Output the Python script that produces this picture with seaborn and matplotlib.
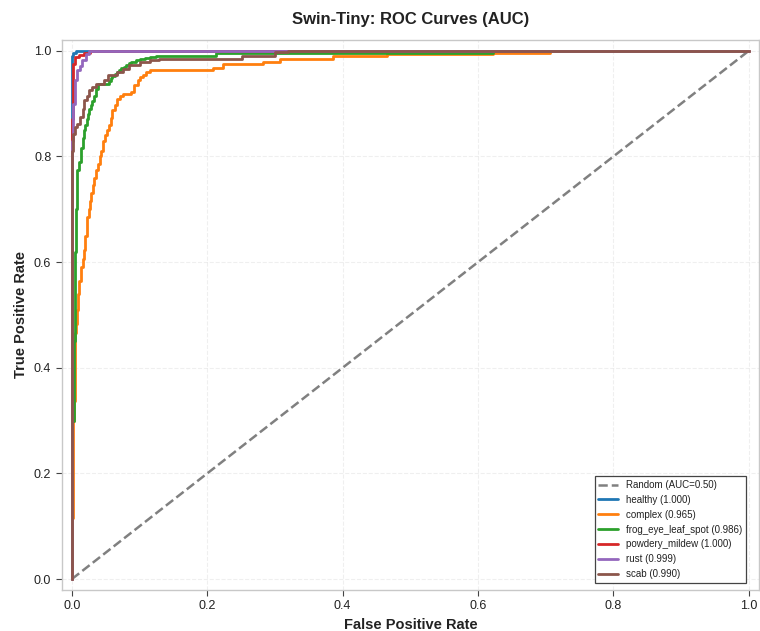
import numpy as np
import pandas as pd
import matplotlib
matplotlib.use("Agg")
import matplotlib.pyplot as plt
import seaborn as sns

# classes + AUC
classes = ["healthy", "complex", "frog_eye_leaf_spot", "powdery_mildew", "rust", "scab"]
auc_values = [1.000, 0.965, 0.986, 1.000, 0.999, 0.990]
colors = ["#1f77b4", "#ff7f0e", "#2ca02c", "#d62728", "#9467bd", "#8c564b"]

# ROC steps (fpr where the curve rises, tpr it rises to)
fpr_healthy = [0, 0, 0.002, 0.006, 1.0]
tpr_healthy = [0, 0.99, 0.995, 1.0, 1.0]

fpr_complex = [0, 0, 0.0015, 0.002, 0.003, 0.004, 0.005, 0.0067, 0.008, 0.009, 0.011,
               0.014, 0.016, 0.018, 0.020, 0.023, 0.025, 0.027, 0.029, 0.031, 0.033,
               0.036, 0.039, 0.041, 0.043, 0.046, 0.049, 0.052, 0.055, 0.058, 0.060,
               0.063, 0.067, 0.071, 0.075, 0.088, 0.092, 0.097, 0.101, 0.105, 0.110,
               0.115, 0.208, 0.223, 0.282, 0.307, 0.385, 0.465, 0.622, 0.706, 1.0]
tpr_complex = [0, 0.116, 0.275, 0.30, 0.337, 0.45, 0.465, 0.483, 0.51, 0.54, 0.565,
               0.59, 0.605, 0.622, 0.65, 0.685, 0.70, 0.715, 0.73, 0.745, 0.76,
               0.775, 0.786, 0.80, 0.811, 0.83, 0.84, 0.85, 0.86, 0.872, 0.887,
               0.898, 0.909, 0.915, 0.919, 0.922, 0.935, 0.944, 0.950, 0.955, 0.959,
               0.963, 0.968, 0.974, 0.979, 0.984, 0.990, 0.993, 0.995, 1.0, 1.0]

fpr_frog = [0, 0, 0.003, 0.004, 0.005, 0.006, 0.007, 0.008, 0.011, 0.013, 0.016, 0.018,
            0.020, 0.022, 0.024, 0.026, 0.028, 0.030, 0.033, 0.036, 0.038, 0.055, 0.058,
            0.060, 0.063, 0.066, 0.070, 0.073, 0.077, 0.080, 0.084, 0.088, 0.094, 0.10,
            0.108, 0.115, 0.125, 0.213, 0.622, 1.0]
tpr_frog = [0, 0.30, 0.45, 0.55, 0.62, 0.70, 0.75, 0.775, 0.79, 0.815, 0.835, 0.85,
            0.86, 0.87, 0.88, 0.89, 0.898, 0.905, 0.915, 0.927, 0.937, 0.943, 0.948,
            0.952, 0.956, 0.96, 0.964, 0.967, 0.970, 0.973, 0.976, 0.979, 0.982, 0.984,
            0.986, 0.988, 0.991, 0.995, 1.0, 1.0]

fpr_powdery = [0, 0, 0.001, 0.004, 0.011, 0.018, 0.027, 1.0]
tpr_powdery = [0, 0.87, 0.975, 0.988, 0.992, 0.995, 1.0, 1.0]

fpr_rust = [0, 0, 0.001, 0.004, 0.008, 0.012, 0.015, 0.021, 0.026, 1.0]
tpr_rust = [0, 0.83, 0.90, 0.944, 0.963, 0.972, 0.982, 0.994, 1.0, 1.0]

fpr_scab = [0, 0, 0.001, 0.004, 0.008, 0.012, 0.016, 0.018, 0.022, 0.026, 0.030, 0.036,
            0.048, 0.053, 0.067, 0.075, 0.085, 0.10, 0.115, 0.129, 0.252, 0.30, 0.319, 1.0]
tpr_scab = [0, 0.81, 0.843, 0.855, 0.862, 0.875, 0.89, 0.906, 0.915, 0.925, 0.932, 0.938,
            0.944, 0.954, 0.96, 0.965, 0.973, 0.979, 0.982, 0.985, 0.991, 0.998, 1.0, 1.0]

curvas = [(fpr_healthy, tpr_healthy), (fpr_complex, tpr_complex), (fpr_frog, tpr_frog),
          (fpr_powdery, tpr_powdery), (fpr_rust, tpr_rust), (fpr_scab, tpr_scab)]

sns.set_style("ticks")
plt.rcParams['font.family'] = ['Liberation Sans', 'DejaVu Sans']

fig = plt.figure(figsize=(7.6, 6.31), dpi=100)
ax = fig.add_axes([0.0812, 0.0656, 0.9175, 0.8707])

# linha aleatoria
sns.lineplot(x=[0, 1], y=[0, 1], ax=ax, color="gray", linestyle="--", linewidth=1.8,
             label="Random (AUC=0.50)", estimator=None, sort=False)

for nome, auc, cor, (fpr, tpr) in zip(classes, auc_values, colors, curvas):
    df = pd.DataFrame({"fpr": fpr, "tpr": tpr})
    sns.lineplot(data=df, x="fpr", y="tpr", ax=ax, color=cor, linewidth=2,
                 drawstyle="steps-post", estimator=None, sort=False,
                 label=f"{nome} ({auc:.3f})")

ax.set_xlim(-0.015, 1.015)
ax.set_ylim(-0.02, 1.02)
ax.set_xticks(np.arange(0, 1.01, 0.2))
ax.set_yticks(np.arange(0, 1.01, 0.2))
ax.set_xticklabels([f"{v:.1f}" for v in np.arange(0, 1.01, 0.2)])
ax.set_yticklabels([f"{v:.1f}" for v in np.arange(0, 1.01, 0.2)])
ax.tick_params(labelsize=9, length=4, color="#444444", labelcolor="#222222")
ax.grid(True, linestyle="--", alpha=0.3)
for s in ax.spines.values():
    s.set_visible(True)
    s.set_color("#c8c8c8")
    s.set_linewidth(1)

ax.set_xlabel("False Positive Rate", fontsize=10.5, fontweight="bold", color="#222222")
ax.set_ylabel("True Positive Rate", fontsize=10.5, fontweight="bold", color="#222222")
ax.set_title("Swin-Tiny: ROC Curves (AUC)", fontsize=12, fontweight="bold", color="#222222", pad=12)

leg = ax.legend(loc="lower right", bbox_to_anchor=(0.981, 0.012), fontsize=7,
                fancybox=False, framealpha=1, borderaxespad=0)
leg.get_frame().set_edgecolor("#444444")
leg.get_frame().set_linewidth(0.9)
for t in leg.get_texts():
    t.set_color("#222222")

plt.savefig("out.png", dpi=100)
